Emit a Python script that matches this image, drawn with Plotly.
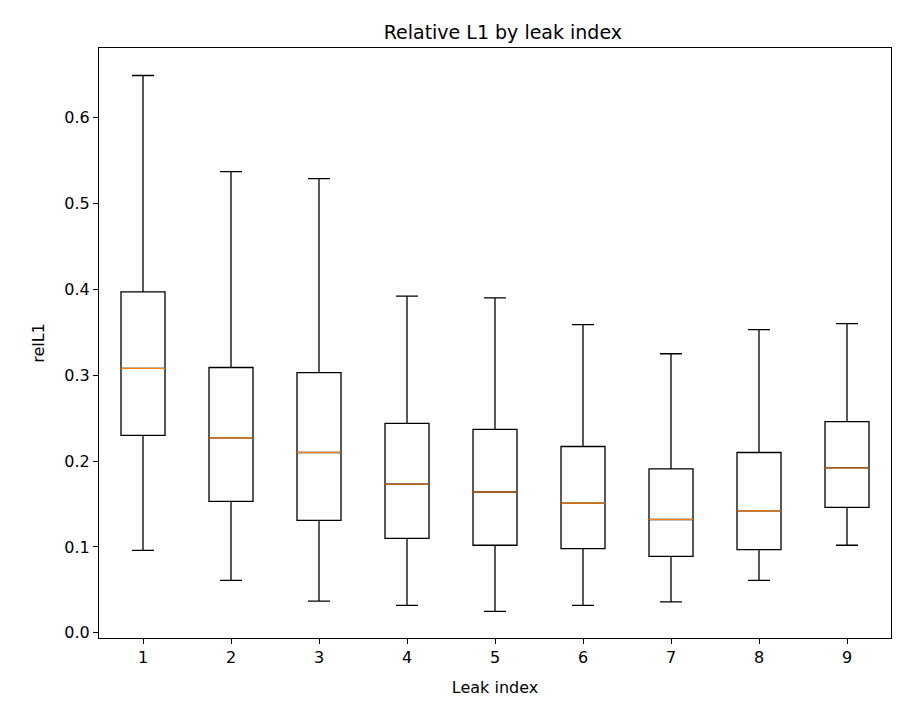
import plotly.graph_objects as go

leak = [1, 2, 3, 4, 5, 6, 7, 8, 9]
lower = [0.096, 0.061, 0.037, 0.032, 0.025, 0.032, 0.036, 0.061, 0.102]
q1 = [0.230, 0.153, 0.131, 0.110, 0.102, 0.098, 0.089, 0.097, 0.146]
median = [0.308, 0.227, 0.210, 0.173, 0.164, 0.151, 0.132, 0.142, 0.192]
q3 = [0.397, 0.309, 0.303, 0.244, 0.237, 0.217, 0.191, 0.210, 0.246]
upper = [0.649, 0.537, 0.529, 0.392, 0.390, 0.359, 0.325, 0.353, 0.360]

fig = go.Figure()
fig.add_trace(go.Box(
    x=leak, q1=q1, median=median, q3=q3, lowerfence=lower, upperfence=upper,
    width=0.5, whiskerwidth=0.5, fillcolor='rgba(0,0,0,0)',
    line=dict(color='black', width=1.3), boxpoints=False, showlegend=False,
    hoverinfo='skip',
))

# orange median lines drawn on top
mx, my = [], []
for x, m in zip(leak, median):
    mx += [x - 0.25, x + 0.25, None]
    my += [m, m, None]
fig.add_trace(go.Scatter(x=mx, y=my, mode='lines', line=dict(color='#ff7f0e', width=1.1),
                         showlegend=False, hoverinfo='skip'))

axis_common = dict(showline=True, mirror=True, linecolor='black', linewidth=1.2,
                   ticks='outside', ticklen=5, tickcolor='black', showgrid=False,
                   zeroline=False, tickfont=dict(size=16, color='black'))
fig.update_layout(
    width=908, height=727,
    margin=dict(l=91, r=25, t=40, b=97),
    plot_bgcolor='white', paper_bgcolor='white',
    font=dict(family='DejaVu Sans', color='black'),
    title=dict(text='Relative L1 by leak index', x=0.545, xanchor='center', y=0.975,
               font=dict(size=19)),
    xaxis=dict(range=[0.5, 9.5], tickvals=leak, title=dict(text='Leak index', font=dict(size=16)),
               **axis_common),
    yaxis=dict(range=[-0.006, 0.681], tickvals=[0, 0.1, 0.2, 0.3, 0.4, 0.5, 0.6],
               tickformat='.1f', title=dict(text='relL1', font=dict(size=16)), **axis_common),
)
fig.write_html("out.html")
